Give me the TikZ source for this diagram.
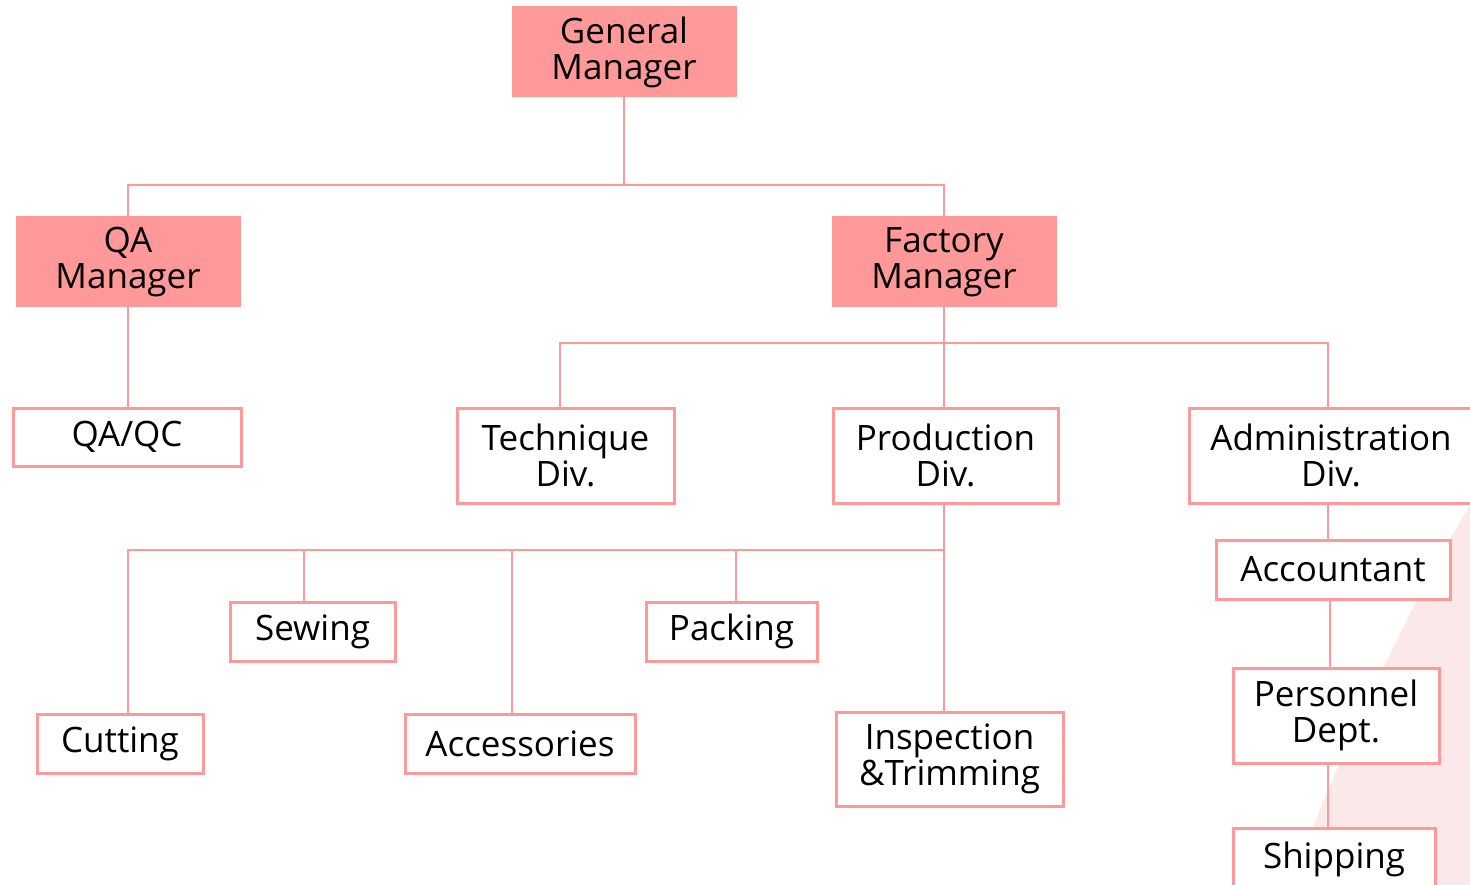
\documentclass[tikz,border=0pt]{standalone}
\usepackage{fontspec}
\setmainfont{Open Sans}
\begin{document}
\begin{tikzpicture}[x=1pt,y=-1pt,
  every node/.style={align=center,font=\fontsize{35}{36}\selectfont,inner sep=0pt},
  mgr/.style={fill=pk,draw=pk,line width=1pt},
  unit/.style={fill=white,draw=pk,line width=3pt},
  link/.style={draw=pk,line width=2pt}]
\definecolor{pk}{HTML}{FF9999}
\definecolor{bgpk}{HTML}{FBE9E9}
\useasboundingbox (0,0) rectangle (1470,885);
\fill[bgpk] (1470,505) .. controls (1400,620) and (1330,780) .. (1290,885) -- (1470,885) -- cycle;
% managers
\node[mgr,minimum width=224pt,minimum height=90pt] (gm) at (624,52) {General\\Manager};
\node[mgr,minimum width=224pt,minimum height=90pt] (qa) at (128,262) {QA\\Manager};
\node[mgr,minimum width=224pt,minimum height=90pt] (fm) at (944,262) {Factory\\Manager};
% units
\node[unit,minimum width=228pt,minimum height=58pt] (qc) at (127,437) {QA/QC};
\node[unit,minimum width=217pt,minimum height=95pt] (tech) at (565.5,455.5) {Technique\\Div.};
\node[unit,minimum width=284pt,minimum height=95pt] (adm) at (1331,455.5) {Administration\\Div.};
\node[unit,minimum width=225pt,minimum height=95pt] (prod) at (945.5,455.5) {Production\\Div.};
\node[unit,minimum width=234pt,minimum height=59pt] (acc) at (1333,569.5) {Accountant};
\node[unit,minimum width=206pt,minimum height=95pt] (pers) at (1336,715.5) {Personnel\\Dept.};
\node[unit,minimum width=202pt,minimum height=62pt] (ship) at (1334,859) {Shipping};
\node[unit,minimum width=165pt,minimum height=59pt] (sew) at (312.5,631.5) {Sewing};
\node[unit,minimum width=171pt,minimum height=59pt] (pack) at (731.5,631.5) {Packing};
\node[unit,minimum width=166pt,minimum height=59pt] (cut) at (120,743.5) {Cutting};
\node[unit,minimum width=230pt,minimum height=59pt] (accs) at (520,743.5) {Accessories};
\node[unit,minimum width=227pt,minimum height=94pt] (insp) at (949.5,759) {Inspection\\\&Trimming};
% junctions
\coordinate (j1) at (624,185);
\coordinate (j2) at (944,343);
\coordinate (j3) at (944,550);
\coordinate (qx) at (128,300);
\coordinate (tx) at (560,343);
\coordinate (ax) at (1328,343);
\coordinate (cx) at (128,550);
\coordinate (sx) at (304,550);
\coordinate (ex) at (512,550);
\coordinate (px) at (736,550);
\coordinate (kx) at (1330,600);
% connectors
\draw[link] (gm.south) -- (j1);
\draw[link] (qa.north) |- (j1) -| (fm.north);
\draw[link] (qa.south) -- (qc.north -| qx);
\draw[link] (fm.south) -- (prod.north -| fm.south);
\draw[link] (tx |- tech.north) -- (tx) -- (ax) -- (ax |- adm.north);
\draw[link] (prod.south -| j3) -- (insp.north -| j3);
\draw[link] (cx |- cut.north) -- (cx) -- (j3);
\draw[link] (sx) -- (sx |- sew.north);
\draw[link] (ex) -- (ex |- accs.north);
\draw[link] (px) -- (px |- pack.north);
\draw[link] (adm.south -| ax) -- (acc.north -| ax);
\draw[link] (acc.south -| kx) -- (pers.north -| kx);
\draw[link] (pers.south -| ax) -- (ship.north -| ax);
\end{tikzpicture}
\end{document}
